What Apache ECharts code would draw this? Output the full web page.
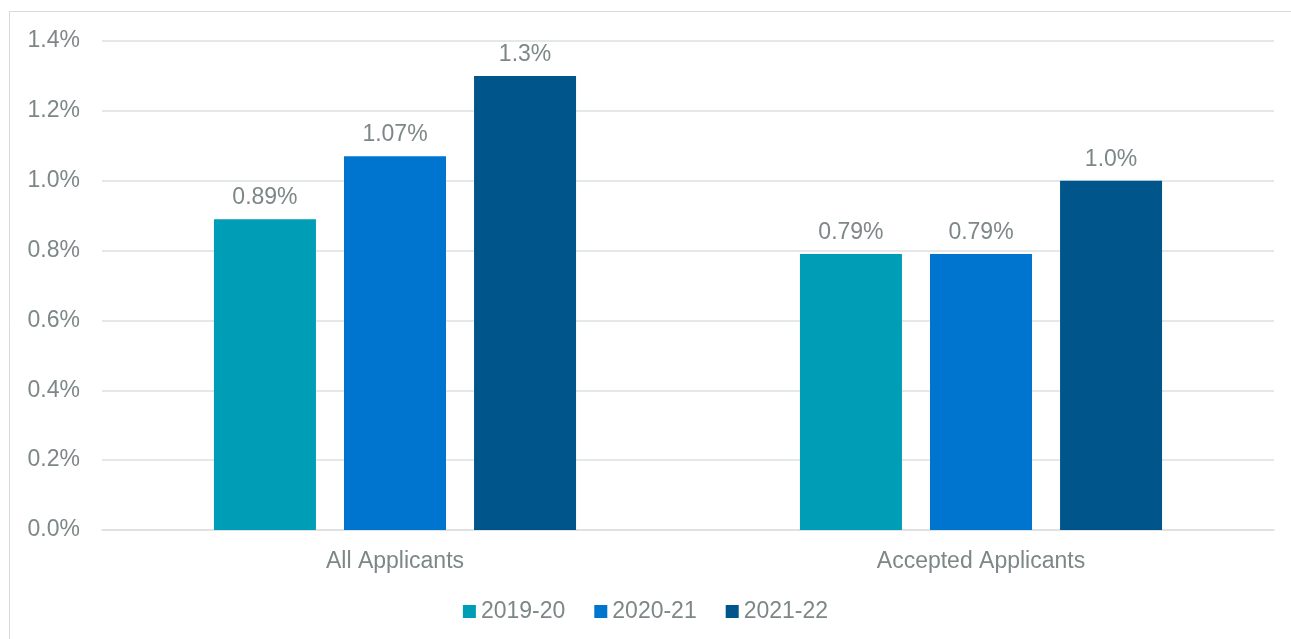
<!DOCTYPE html>
<html>
<head>
<meta charset="utf-8">
<title>Applicants share by year</title>
<script src="https://cdn.jsdelivr.net/npm/echarts@6/dist/echarts.min.js"></script>
<style>
  html, body { margin: 0; padding: 0; background: #ffffff; }
  #chart { width: 1291px; height: 639px; }
</style>
</head>
<body>
<div id="chart"></div>
<script>
// Categories along the x axis
const categories = ['All Applicants', 'Accepted Applicants'];

// Series names (academic years)
const seriesNames = ['2019-20', '2020-21', '2021-22'];

// Percentages per year, one value per category
const values201920 = [0.89, 0.79];
const values202021 = [1.07, 0.79];
const values202122 = [1.3, 1.0];

// Decimal places used by each series' value labels
const labelDecimals = [2, 2, 1];

// Y axis range and step (percent)
const yMin = 0;
const yMax = 1.4;
const yStep = 0.2;

const colors = ['#009db6', '#0075cf', '#00558a'];
const textGray = '#7d8787';
const gridGray = '#dde0e0';
const fontFamily = '"Liberation Sans", Arial, sans-serif';
const fontSize = 23;

const seriesValues = [values201920, values202021, values202122];

const chart = echarts.init(document.getElementById('chart'), null, { renderer: 'canvas' });

chart.setOption({
  animation: false,
  backgroundColor: '#ffffff',
  textStyle: { fontFamily: fontFamily },
  graphic: [{
    type: 'rect',
    shape: { x: 9.5, y: 11.5, width: 1320, height: 700 },
    style: { fill: 'none', stroke: '#d9d9d9', lineWidth: 1 },
    silent: true,
    z: 0
  }],
  grid: { left: 102, right: 17, top: 41, bottom: 109, containLabel: false },
  legend: {
    data: seriesNames,
    bottom: 11,
    left: 'center',
    itemWidth: 13,
    itemHeight: 13,
    itemGap: 29,
    icon: 'rect',
    textStyle: { color: textGray, fontSize: fontSize, fontFamily: fontFamily }
  },
  xAxis: {
    type: 'category',
    data: categories,
    axisLine: { show: true, lineStyle: { color: gridGray, width: 1.5 } },
    axisTick: { show: false },
    axisLabel: { color: textGray, fontSize: fontSize, margin: 20, fontFamily: fontFamily }
  },
  yAxis: {
    type: 'value',
    min: yMin,
    max: yMax,
    interval: yStep,
    axisLine: { show: false },
    axisTick: { show: false },
    splitLine: { lineStyle: { color: gridGray, width: 1.5 } },
    axisLabel: {
      color: textGray,
      fontSize: fontSize,
      margin: 22,
      fontFamily: fontFamily,
      formatter: v => v.toFixed(1) + '%'
    }
  },
  series: seriesNames.map((name, i) => ({
    name: name,
    type: 'bar',
    data: seriesValues[i],
    barWidth: 102,
    barGap: '27.5%',
    itemStyle: { color: colors[i] },
    label: {
      show: true,
      position: 'top',
      distance: 10,
      color: textGray,
      fontSize: fontSize,
      fontFamily: fontFamily,
      formatter: p => p.value.toFixed(labelDecimals[i]) + '%'
    }
  }))
});
</script>
</body>
</html>
